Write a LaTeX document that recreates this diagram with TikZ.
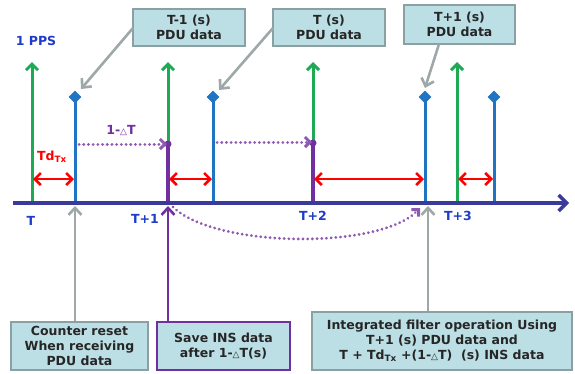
\documentclass[tikz,border=0pt]{standalone}
\usepackage{fontspec}
\setmainfont{DejaVu Sans}
\usetikzlibrary{arrows.meta,shapes.geometric}
\definecolor{ppsgreen}{HTML}{1EAA55}
\definecolor{pdublue}{HTML}{1F74C4}
\definecolor{axisblue}{HTML}{3A3A9A}
\definecolor{insviolet}{HTML}{7030A0}
\definecolor{boxfill}{HTML}{BCDFE6}
\definecolor{boxedge}{HTML}{8AA0A3}
\definecolor{pointer}{HTML}{9EA8A9}
\definecolor{lblblue}{HTML}{1E3CC8}
\newcommand{\dT}{{\fontsize{9}{9}\selectfont △}}
\begin{document}
\begin{tikzpicture}[x=1pt,y=-1pt,
  infobox/.style={draw=boxedge,line width=2pt,fill=boxfill,align=center,
    font=\bfseries\fontsize{12.5}{15}\selectfont,text=black!85,inner sep=2pt},
  greenarrow/.style={draw=ppsgreen,line width=3pt,-{Straight Barb[length=6pt,width=12pt,line width=3pt]}},
  bluel/.style={draw=pdublue,line width=3pt},
  vtop/.style={diamond,fill=pdublue,minimum size=13pt,inner sep=0pt},
  redarr/.style={draw=red,line width=2.6pt,{Straight Barb[length=6pt,width=12pt,line width=2.6pt]}-{Straight Barb[length=6pt,width=12pt,line width=2.6pt]}},
  dotarrow/.style={draw=insviolet!80,line width=3pt,dash pattern=on 0.1pt off 4.6pt,line cap=round,-{Straight Barb[length=5pt,width=10pt,line width=3pt]}},
  greyarrow/.style={draw=pointer,line width=2.6pt,-{Straight Barb[length=7pt,width=13pt,line width=2.6pt]}},
  lbl/.style={font=\bfseries\fontsize{12.5}{14}\selectfont,inner sep=1pt}]
\useasboundingbox (0,0) rectangle (575,373);
% axis
\coordinate (ax0) at (13,203);
\coordinate (ax1) at (569,203);
% green 1PPS lines
\foreach \i/\x in {0/32,1/168,2/313,3/457}{
  \coordinate (ga\i) at (\x,203);
  \coordinate (gt\i) at (\x,62);
}
\draw[greenarrow] (ga0) -- (gt0);
\draw[greenarrow] (ga1) -- (gt1);
\draw[greenarrow] (ga2) -- (gt2);
\draw[greenarrow] (ga3) -- (gt3);
% purple segments
\coordinate (pb1) at (168,203); \coordinate (pt1) at (168,144);
\coordinate (pb2) at (313,203); \coordinate (pt2) at (313,143);
\draw[insviolet,line width=4pt] (pb1) -- (pt1);
\draw[insviolet,line width=4pt] (pb2) -- (pt2);
% blue PDU lines
\foreach \i/\x in {0/75,1/213,2/425,3/494}{
  \coordinate (ba\i) at (\x,203);
  \coordinate (bt\i) at (\x,97);
}
\draw[bluel] (ba0) -- (bt0);
\draw[bluel] (ba1) -- (bt1);
\draw[bluel] (ba2) -- (bt2);
\draw[bluel] (ba3) -- (bt3);
\node[vtop] (d0) at (bt0) {};
\node[vtop] (d1) at (bt1) {};
\node[vtop] (d2) at (bt2) {};
\node[vtop] (d3) at (bt3) {};
% axis drawn over
\draw[axisblue,line width=3.5pt,-{Straight Barb[length=8pt,width=16pt,line width=3.5pt]}] (ax0) -- (ax1);
% red double arrows
\coordinate (r0a) at (33,179); \coordinate (r0b) at (74,179);
\coordinate (r1a) at (169,179); \coordinate (r1b) at (212,179);
\coordinate (r2a) at (314,179); \coordinate (r2b) at (424,179);
\coordinate (r3a) at (458,179); \coordinate (r3b) at (493,179);
\draw[redarr] (r0a) -- (r0b);
\draw[redarr] (r1a) -- (r1b);
\draw[redarr] (r2a) -- (r2b);
\draw[redarr] (r3a) -- (r3b);
% dotted arrows
\coordinate (s0) at (79,144); \coordinate (e0) at (167,144);
\coordinate (s1) at (217,142); \coordinate (e1) at (312,142);
\fill[insviolet] (pt1) circle (3.5pt);
\fill[insviolet] (pt2) circle (3.5pt);
\draw[dotarrow] (s0) -- (e0);
\draw[dotarrow] (s1) -- (e1);
\coordinate (cs) at (173,207); \coordinate (ce) at (420,208);
\draw[dotarrow] (cs) .. controls (215,248) and (380,250) .. (ce);
% labels
\node[lbl,text=lblblue] (pps) at (36,41) {1 PPS};
\node[lbl,text=insviolet] (dtl) at (121,130) {1-\dT T};
\node[lbl,text=red] (tdl) at (52,157) {Td\textsubscript{Tx}};
\node[lbl,text=lblblue] (tT) at (31,221) {T};
\node[lbl,text=lblblue] (tT1) at (145,219) {T+1};
\node[lbl,text=lblblue] (tT2) at (313,216) {T+2};
\node[lbl,text=lblblue] (tT3) at (458,216) {T+3};
% top boxes
\node[infobox,minimum width=112pt,minimum height=37pt] (bm1) at (189,27) {T-1 (s)\\PDU data};
\node[infobox,minimum width=112pt,minimum height=37pt] (bz) at (329,27) {T (s)\\PDU data};
\node[infobox,minimum width=111pt,minimum height=39pt] (bp1) at (459.5,24.5) {T+1 (s)\\PDU data};
\coordinate (q0) at (81,89); \coordinate (q1) at (219,90); \coordinate (q2) at (425,88);
\draw[greyarrow] (133,28) -- (q0);
\draw[greyarrow] (273,28) -- (q1);
\draw[greyarrow] (439,44) -- (q2);
% bottom boxes
\node[infobox,minimum width=137pt,minimum height=48pt] (cr) at (79.5,346) {Counter reset\\When receiving\\PDU data};
\node[infobox,draw=insviolet,minimum width=133pt,minimum height=48pt] (sv) at (223.5,346) {Save INS data\\after 1-\dT T(s)};
\node[infobox,minimum width=260pt,minimum height=58pt] (ig) at (442,341) {Integrated filter operation Using\\T+1 (s) PDU data and\\T + Td\textsubscript{Tx} +(1-\dT T)\ \ (s) INS data};
\coordinate (u0) at (75,206); \coordinate (u1) at (168,206); \coordinate (u2) at (428,206);
\draw[greyarrow] (cr.north -| u0) -- (u0);
\draw[draw=insviolet,line width=2.6pt,-{Straight Barb[length=7pt,width=13pt,line width=2.6pt]}] (sv.north -| u1) -- (u1);
\draw[greyarrow] (ig.north -| u2) -- (u2);
\end{tikzpicture}
\end{document}
